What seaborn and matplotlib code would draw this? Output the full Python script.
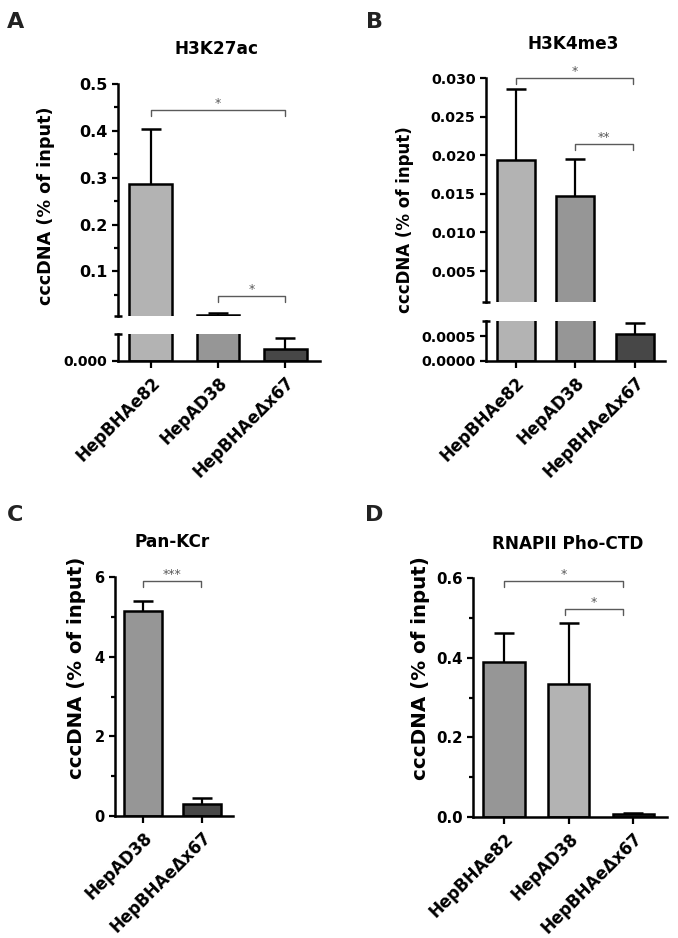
import numpy as np
import matplotlib
matplotlib.use("Agg")
import matplotlib.pyplot as plt
import seaborn as sns

W, H = 678, 938

groups3 = ["HepBHAe82", "HepAD38", "HepBHAeΔx67"]
groups2 = ["HepAD38", "HepBHAeΔx67"]

# A: H3K27ac (broken axis)
a_mean = [0.287, 0.008, 0.0009]
a_err = [0.118, 0.004, 0.0008]
a_sig = [(0, 2, 0.445, "*"), (1, 2, 0.048, "*")]

# B: H3K4me3 (broken axis)
b_mean = [0.0194, 0.0147, 0.00054]
b_err = [0.0092, 0.0048, 0.00023]
b_sig = [(0, 1.97, 0.030, "*"), (1, 1.97, 0.0214, "**")]

# C: Pan-KCr
c_mean = [5.15, 0.30]
c_err = [0.24, 0.16]
c_sig = [(0, 0.97, 5.89, "***")]

# D: RNAPII Pho-CTD
d_mean = [0.388, 0.333, 0.008]
d_err = [0.074, 0.153, 0.003]
d_sig = [(0, 1.84, 0.592, "*"), (0.94, 1.84, 0.522, "*")]

light, mid, dark = "#b3b3b3", "#969696", "#474747"

sns.set_theme(style="ticks")
plt.rcParams["font.family"] = ["DejaVu Sans"]
plt.rcParams["font.weight"] = "bold"
plt.rcParams["axes.linewidth"] = 1.8
for k in ["text.color", "axes.labelcolor", "xtick.color", "ytick.color", "axes.edgecolor"]:
    plt.rcParams[k] = "black"

fig = plt.figure(figsize=(W / 100, H / 100), dpi=100)


def add_ax(l, t, r, b):
    return fig.add_axes([l / W, 1 - b / H, (r - l) / W, (b - t) / H])


def draw_bars(ax, groups, means, errs, colors, xlim):
    sns.barplot(x=groups, y=means, hue=groups, palette=colors, legend=False,
                width=0.64, edgecolor="black", linewidth=1.8, saturation=1, ax=ax)
    # one-sided (upper) error bars: stem + cap
    xs = np.arange(len(groups))
    tops = np.array(means) + np.array(errs)
    ax.vlines(xs, means, tops, color="black", lw=1.6, zorder=3)
    ax.plot(xs, tops, ls="none", marker="_", ms=15, mew=1.8, color="black", zorder=3)
    ax.set_xlim(*xlim)
    ax.set_xlabel("")
    ax.set_ylabel("")
    for s in ["top", "right"]:
        ax.spines[s].set_visible(False)
    ax.tick_params(axis="y", length=4, width=1.6, color="black")
    ax.tick_params(axis="y", which="minor", length=3, width=1.6, color="black")
    ax.tick_params(axis="x", length=5, width=1.6, color="black")


def style_x(ax, groups, size):
    ax.set_xticks(range(len(groups)))
    ax.set_xticklabels(groups, rotation=45, ha="right", rotation_mode="anchor",
                       fontsize=size, fontweight="bold")
    ax.tick_params(axis="x", pad=4)


def hide_x(ax):
    ax.spines["bottom"].set_visible(False)
    ax.set_xticks([])


def break_mark(ax, y, px_width):
    f = 4.0 / px_width
    ax.plot([-f, f], [y, y], transform=ax.transAxes, color="black", lw=1.8,
            clip_on=False, solid_capstyle="butt")


def brackets(ax, sig, drop, size=9):
    for x1, x2, y, lab in sig:
        ax.plot([x1, x1, x2, x2], [y - drop, y, y, y - drop], color="#5a5a5a",
                lw=1, clip_on=False)
        ax.text((x1 + x2) / 2, y, lab, ha="center", va="bottom", color="#5a5a5a",
                fontsize=size, fontweight="normal")


def fig_text(x, y, s, size, **kw):
    fig.text(x / W, 1 - y / H, s, fontsize=size, fontweight="bold",
             ha="center", va="center", **kw)


# ---- Panel A ----
cols_a = [light, mid, dark]
ax_a_top = add_ax(118, 84, 320, 316)
ax_a_bot = add_ax(118, 334, 320, 361)
for ax in (ax_a_top, ax_a_bot):
    draw_bars(ax, groups3, a_mean, a_err, cols_a, (-0.49, 2.52))
ax_a_top.set_ylim(0.005, 0.5)
ax_a_top.set_yticks([0.1, 0.2, 0.3, 0.4, 0.5])
ax_a_top.set_yticks([0.05, 0.15, 0.25, 0.35, 0.45], minor=True)
ax_a_top.set_yticklabels(["0.1", "0.2", "0.3", "0.4", "0.5"], fontsize=11.5)
hide_x(ax_a_top)
ax_a_bot.set_ylim(0, 0.002)
ax_a_bot.set_yticks([0])
ax_a_bot.set_yticklabels(["0.000"], fontsize=10)
style_x(ax_a_bot, groups3, 12)
break_mark(ax_a_top, 0, 202)
break_mark(ax_a_bot, 1, 202)
brackets(ax_a_top, a_sig, 0.013)

# ---- Panel B ----
cols_b = [light, mid, dark]
ax_b_top = add_ax(486, 78, 665, 302)
ax_b_bot = add_ax(486, 321, 665, 361)
for ax in (ax_b_top, ax_b_bot):
    draw_bars(ax, groups3, b_mean, b_err, cols_b, (-0.5, 2.51))
ax_b_top.set_ylim(0.001, 0.030)
ax_b_top.set_yticks([0.005, 0.010, 0.015, 0.020, 0.025, 0.030])
ax_b_top.set_yticklabels(["0.005", "0.010", "0.015", "0.020", "0.025", "0.030"],
                         fontsize=10.2)
hide_x(ax_b_top)
ax_b_bot.set_ylim(0, 0.0008)
ax_b_bot.set_yticks([0, 0.0005])
ax_b_bot.set_yticklabels(["0.0000", "0.0005"], fontsize=10.2)
style_x(ax_b_bot, groups3, 12)
break_mark(ax_b_top, 0, 179)
break_mark(ax_b_bot, 1, 179)
brackets(ax_b_top, b_sig, 0.00078)

# ---- Panel C ----
ax_c = add_ax(115, 577, 233, 816)
draw_bars(ax_c, groups2, c_mean, c_err, [mid, dark], (-0.48, 1.52))
ax_c.set_ylim(0, 6)
ax_c.set_yticks([0, 2, 4, 6])
ax_c.set_yticks([1, 3, 5], minor=True)
ax_c.set_yticklabels(["0", "2", "4", "6"], fontsize=10.5)
style_x(ax_c, groups2, 12)
brackets(ax_c, c_sig, 0.15)

# ---- Panel D ----
ax_d = add_ax(473, 578, 667, 817)
draw_bars(ax_d, groups3, d_mean, d_err, [mid, light, dark], (-0.48, 2.52))
ax_d.set_ylim(0, 0.6)
ax_d.set_yticks([0, 0.2, 0.4, 0.6])
ax_d.set_yticks([0.1, 0.3, 0.5], minor=True)
ax_d.set_yticklabels(["0.0", "0.2", "0.4", "0.6"], fontsize=10.8)
style_x(ax_d, groups3, 12)
brackets(ax_d, d_sig, 0.015)

# titles, y labels, panel letters
fig_text(217, 49, "H3K27ac", 12.2)
fig_text(573, 44, "H3K4me3", 12.2)
fig_text(172, 542, "Pan-KCr", 12.2)
fig_text(568, 544, "RNAPII Pho-CTD", 12.2)

ylab = "cccDNA (% of input)"
fig_text(46, 206, ylab, 12.7, rotation=90)
fig_text(405, 220, ylab, 12, rotation=90)
fig_text(77, 668, ylab, 14.2, rotation=90)
fig_text(421, 668, ylab, 14.3, rotation=90)

for x, y, s in [(16, 22, "A"), (374, 22, "B"), (15, 515, "C"), (374, 515, "D")]:
    fig_text(x, y, s, 16, color="#222222")

fig.savefig("out.png", dpi=100)
